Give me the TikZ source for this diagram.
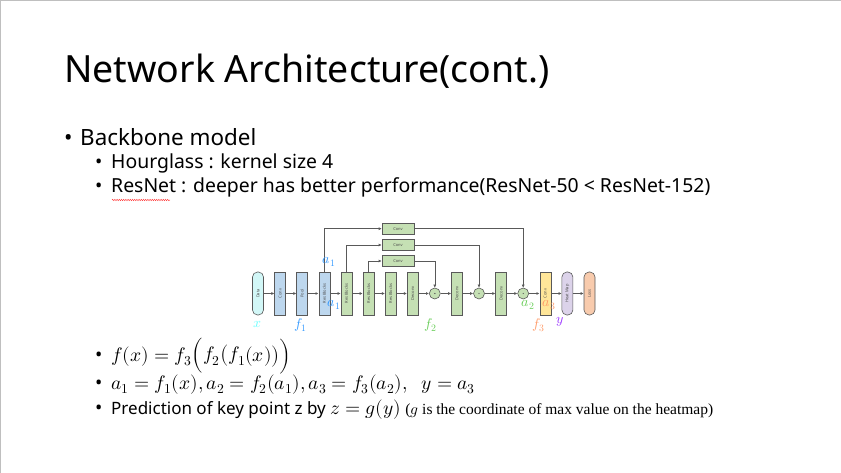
\documentclass[tikz,border=0pt]{standalone}
\usepackage{fontspec}
\usepackage{unicode-math}
\setmainfont{Noto Sans}
\setmathfont{Latin Modern Math}
\newfontfamily\notefont{Liberation Serif}
\usetikzlibrary{arrows.meta,positioning,decorations.pathmorphing}

\definecolor{datafill}{HTML}{D2F7F7}
\definecolor{bluefill}{HTML}{BDD7EE}
\definecolor{greenfill}{HTML}{C5E0B4}
\definecolor{yellowfill}{HTML}{FFE699}
\definecolor{purplefill}{HTML}{DCD3EA}
\definecolor{orangefill}{HTML}{F8CBAD}
\definecolor{edgegray}{HTML}{595959}
\definecolor{xcol}{HTML}{66FFFF}
\definecolor{fonecol}{HTML}{3399FF}
\definecolor{ftwocol}{HTML}{66CC55}
\definecolor{fthreecol}{HTML}{FF9966}
\definecolor{ycol}{HTML}{9933FF}

\tikzset{
  layer/.style={draw=edgegray, line width=0.6pt, minimum width=11pt,
    minimum height=43pt, inner sep=0pt, text=black!70,
    font=\fontsize{4}{4}\selectfont},
  roundlayer/.style={layer, rounded corners=5pt},
  plus/.style={circle, draw=edgegray, line width=0.6pt, fill=greenfill,
    minimum size=11pt, inner sep=0pt},
  skipconv/.style={draw=edgegray, line width=0.6pt, fill=greenfill,
    minimum width=32pt, minimum height=11pt, inner sep=0pt, text=black!70,
    font=\fontsize{4}{4}\selectfont},
  link/.style={draw=edgegray, line width=0.6pt, -{Latex[length=3pt,width=3pt]}},
  tag/.style={font=\fontsize{14}{14}\selectfont, inner sep=0pt},
  bigtxt/.style={font=\fontsize{22.4}{26}\selectfont, inner sep=0pt, anchor=base west},
  midtxt/.style={font=\fontsize{19.4}{22}\selectfont, inner sep=0pt, anchor=base west},
  mathtxt/.style={font=\fontsize{19.5}{22}\selectfont, inner sep=0pt, anchor=base west},
  predtxt/.style={font=\fontsize{17}{20}\selectfont, inner sep=0pt, anchor=base west},
}

\begin{document}
\begin{tikzpicture}[x=1pt,y=-1pt]
\useasboundingbox (0,0) rectangle (841,473);
\draw[gray!50, line width=1pt] (0.5,473) -- (0.5,0.5) -- (841,0.5);

% title and bullets
\node (title) [inner sep=0pt, anchor=base west, font=\fontsize{37.5}{42}\selectfont]
  at (64,83) {Network Architecture(cont.)};
\node (b1) [bigtxt] at (64,146) {•};
\node (t1) [bigtxt] at (80,146) {Backbone model};
\node (b2) [midtxt] at (95,169) {•};
\node (t2) [midtxt] at (111,169) {Hourglass : kernel size 4};
\node (b3) [midtxt] at (95,193) {•};
\node (t3) [midtxt] at (111,193) {ResNet : deeper has better performance(ResNet-50 < ResNet-152)};
\draw[red!80, line width=0.4pt, decorate,
  decoration={snake, amplitude=0.7pt, segment length=2.2pt}] (112,200) -- (170,200);

% network
\node (data) [roundlayer, fill=datafill] at (258,293.5) {\rotatebox{90}{Data}};
\node (conv) [layer, fill=bluefill, right=10.5pt of data] {\rotatebox{90}{Conv}};
\node (pool) [layer, fill=bluefill, right=10.5pt of conv] {\rotatebox{90}{Pool}};
\node (rbone) [layer, fill=bluefill, right=10.5pt of pool] {\rotatebox{90}{Res Blocks}};
\node (rbtwo) [layer, fill=greenfill, right=10.5pt of rbone] {\rotatebox{90}{Res Blocks}};
\node (rbthree) [layer, fill=greenfill, right=10.5pt of rbtwo] {\rotatebox{90}{Res Blocks}};
\node (rbfour) [layer, fill=greenfill, right=10.5pt of rbthree] {\rotatebox{90}{Res Blocks}};
\node (dcone) [layer, fill=greenfill, right=10.5pt of rbfour] {\rotatebox{90}{Deconv}};
\node (pone) [plus, right=10.5pt of dcone] {};
\node (dctwo) [layer, fill=greenfill, right=10.5pt of pone] {\rotatebox{90}{Deconv}};
\node (ptwo) [plus, right=10.5pt of dctwo] {};
\node (dcthree) [layer, fill=greenfill, right=10.5pt of ptwo] {\rotatebox{90}{Deconv}};
\node (pthree) [plus, right=10.5pt of dcthree] {};
\node (cvout) [layer, fill=yellowfill, right=10.5pt of pthree] {\rotatebox{90}{Conv}};
\node (heat) [roundlayer, fill=purplefill, right=10.5pt of cvout] {\rotatebox{90}{Heat Map}};
\node (loss) [roundlayer, fill=orangefill, right=10.5pt of heat] {\rotatebox{90}{Loss}};

\foreach \p in {pone,ptwo,pthree}
  \fill[edgegray] (\p) circle (0.7pt);

\node (cone) [skipconv] at (398,228.7) {Conv};
\node (ctwo) [skipconv] at (398,245) {Conv};
\node (cthree) [skipconv] at (398,261) {Conv};

\foreach \a/\b in {data/conv,conv/pool,pool/rbone,rbone/rbtwo,rbtwo/rbthree,
  rbthree/rbfour,rbfour/dcone,dcone/pone,pone/dctwo,dctwo/ptwo,ptwo/dcthree,
  dcthree/pthree,pthree/cvout,cvout/heat,heat/loss}
  \draw[link] (\a) -- (\b);

\draw[link] (rbone.north) |- (cone.west);
\draw[link] (rbtwo.north) |- (ctwo.west);
\draw[link] (rbthree.north) |- (cthree.west);
\draw[link] (cone.east) -| (pthree.north);
\draw[link] (ctwo.east) -| (ptwo.north);
\draw[link] (cthree.east) -| (pone.north);

% labels
\node (lx) [tag, text=xcol] at (258,324) {$x$};
\node (lfone) [tag, text=fonecol] at (301,325) {$f_1$};
\node (laone) [tag, text=fonecol] at (329,262) {$a_1$};
\node (laonelow) [tag, text=fonecol] at (334,305) {$a_1$};
\node (lftwo) [tag, text=ftwocol] at (431,325) {$f_2$};
\node (latwo) [tag, text=ftwocol] at (528,305) {$a_2$};
\node (lathree) [tag, text=fthreecol] at (549,305) {$a_3$};
\node (lfthree) [tag, text=fthreecol] at (539,325) {$f_3$};
\node (ly) [tag, text=ycol] at (560,322) {$y$};

% formulas
\node (b4) [midtxt] at (95,361) {•};
\node (t4) [mathtxt] at (111,361) {$f(x)=f_3\Big(f_2\big(f_1(x)\big)\Big)$};
\node (b5) [midtxt] at (95,389) {•};
\node (t5) [mathtxt] at (111,389) {$a_1=f_1(x),a_2=f_2(a_1),a_3=f_3(a_2),\;\;y=a_3$};
\node (b6) [midtxt] at (95,414) {•};
\node (t6) [predtxt] at (111,414) {Prediction of key point z by {\fontsize{19.5}{22}\selectfont$z=g(y)$}
  {\notefont\fontsize{15.5}{18}\selectfont ($g$ is the coordinate of max value on the heatmap)}};
\end{tikzpicture}
\end{document}
